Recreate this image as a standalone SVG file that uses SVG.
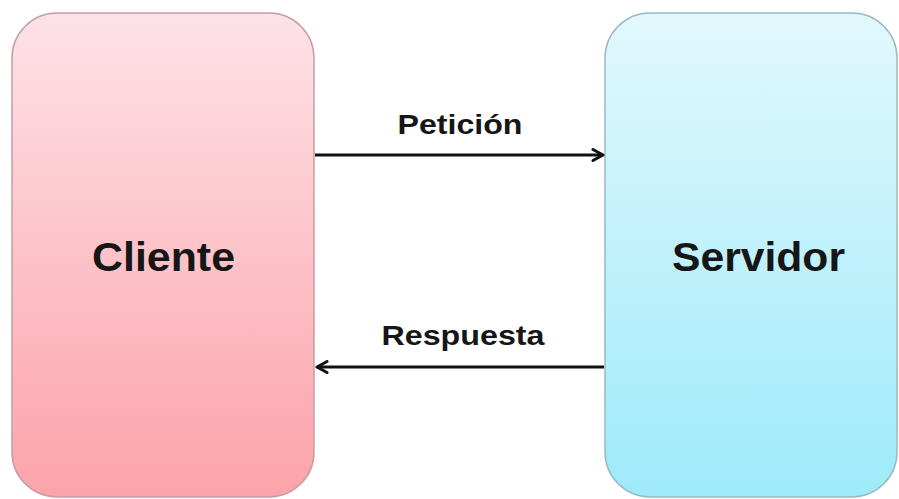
<svg xmlns="http://www.w3.org/2000/svg" width="899" height="499" viewBox="0 0 899 499">
<defs>
<linearGradient id="gPink" x1="0" y1="0" x2="0" y2="1">
<stop offset="0" stop-color="#fde2e8"/>
<stop offset="1" stop-color="#fca3a9"/>
</linearGradient>
<linearGradient id="gBlue" x1="0" y1="0" x2="0" y2="1">
<stop offset="0" stop-color="#e2f8fd"/>
<stop offset="1" stop-color="#9eeafa"/>
</linearGradient>
<marker id="arr" viewBox="0 0 14 14" refX="12" refY="7" markerWidth="14" markerHeight="14" markerUnits="userSpaceOnUse" orient="auto">
<path d="M2,1.5 L12,7 L2,12.5" fill="none" stroke="#111" stroke-width="3" stroke-linecap="round" stroke-linejoin="round"/>
</marker>
<style>
.lbl{font-family:"Liberation Sans",Arial,sans-serif;font-weight:bold;fill:#161616;text-anchor:middle}
.big{font-size:41px}
.small{font-size:28px}
.conn{stroke:#111;stroke-width:3.2;fill:none}
</style>
</defs>
<rect width="899" height="499" fill="#ffffff"/>
<g id="cliente">
<rect x="12" y="13" width="302" height="484" rx="45" ry="45" fill="url(#gPink)" stroke="#c49ea3" stroke-width="1.5"/>
<text class="lbl big" x="163.5" y="271" textLength="143" lengthAdjust="spacingAndGlyphs">Cliente</text>
</g>
<g id="servidor">
<rect x="605" y="13" width="292" height="484" rx="45" ry="45" fill="url(#gBlue)" stroke="#98bac2" stroke-width="1.5"/>
<text class="lbl big" x="758.5" y="271" textLength="173" lengthAdjust="spacingAndGlyphs">Servidor</text>
</g>
<g id="connectors">
<line class="conn" x1="315" y1="155" x2="603" y2="155" marker-end="url(#arr)"/>
<text class="lbl small" x="460" y="134" textLength="125" lengthAdjust="spacingAndGlyphs">Petición</text>
<line class="conn" x1="604" y1="367" x2="317" y2="367" marker-end="url(#arr)"/>
<text class="lbl small" x="463" y="345" textLength="163" lengthAdjust="spacingAndGlyphs">Respuesta</text>
</g>
</svg>
